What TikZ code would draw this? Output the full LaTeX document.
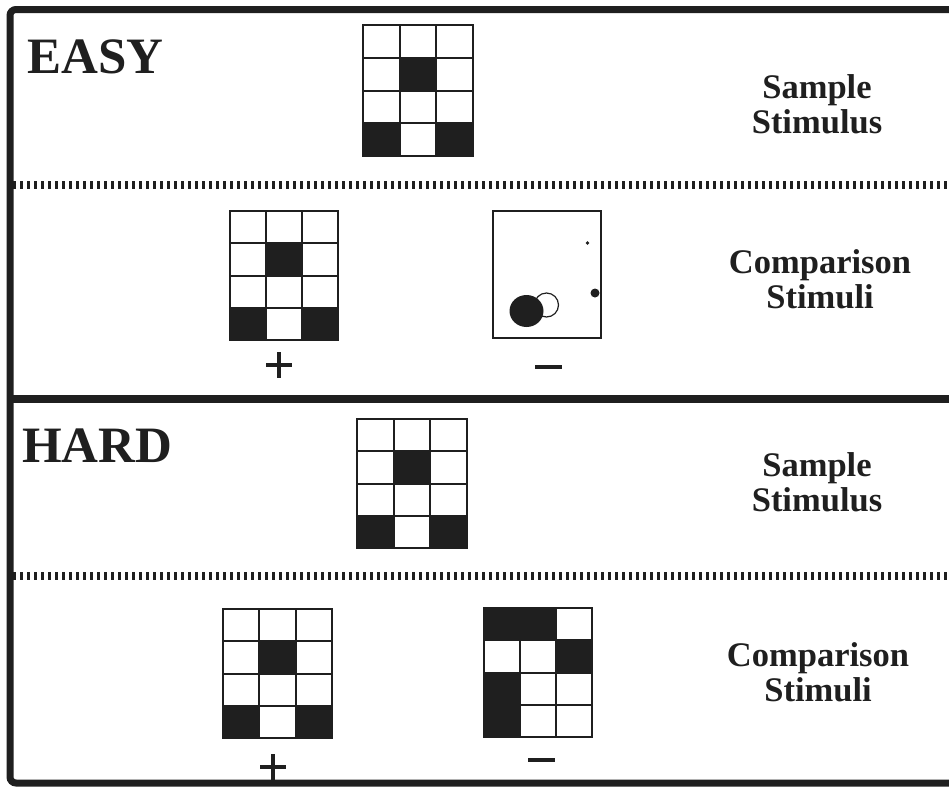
\documentclass[tikz,border=0pt]{standalone}
\usepackage{fontspec}
\setmainfont{Liberation Serif}
\newcommand\stimgrid[5]{% x0 y0 x1 y1 fills
  \begin{scope}[shift={(#1,#2)}, xscale={(#3-#1)/3}, yscale={(#4-#2)/4}]
    \fill[ink] #5;
    \foreach \i in {1,2} \draw[gridline] (\i,0) -- (\i,4);
    \foreach \j in {1,2,3} \draw[gridline] (0,\j) -- (3,\j);
    \draw[gridline, line width=2.4pt] (0,0) rectangle (3,4);
  \end{scope}}
\begin{document}
\begin{tikzpicture}[x=1pt,y=-1pt,
  ink/.style={fill=black!88},
  gridline/.style={draw=black!88, line width=2pt},
  frameline/.style={draw=black!88, line width=7pt},
  dotline/.style={draw=black!88, line width=8pt, dash pattern=on 3.4pt off 3.6pt},
  bigtitle/.style={font=\bfseries\fontsize{51}{51}\selectfont, text=black!88, inner sep=0pt},
  sidelabel/.style={font=\bfseries\fontsize{34.5}{35}\selectfont, text=black!88, align=center, inner sep=0pt},
  signline/.style={draw=black!88, line width=4.5pt}]
\useasboundingbox (0,0) rectangle (949,788);
% frame
\draw[frameline, rounded corners=6pt] (949,9.5) -- (10,9.5) -- (10,783) -- (949,783);
\draw[draw=black!88, line width=8pt] (10,399) -- (949,399);
\draw[dotline] (13,185) -- (949,185);
\draw[dotline] (13,576) -- (949,576);
% titles
\node[bigtitle, anchor=base west] (easy) at (27,73) {EASY};
\node[bigtitle, anchor=base west] (hard) at (22,462) {HARD};
% side labels
\node[sidelabel] (s1) at (817,104) {Sample\\Stimulus};
\node[sidelabel] (c1) at (820,279) {Comparison\\Stimuli};
\node[sidelabel] (s2) at (817,482) {Sample\\Stimulus};
\node[sidelabel] (c2) at (818,672) {Comparison\\Stimuli};
% grids
\stimgrid{363}{25}{473}{156}{(1,1) rectangle (2,2) (0,3) rectangle (1,4) (2,3) rectangle (3,4)}
\stimgrid{230}{211}{338}{340}{(1,1) rectangle (2,2) (0,3) rectangle (1,4) (2,3) rectangle (3,4)}
\stimgrid{357}{419}{467}{548}{(1,1) rectangle (2,2) (0,3) rectangle (1,4) (2,3) rectangle (3,4)}
\stimgrid{223}{609}{332}{738}{(1,1) rectangle (2,2) (0,3) rectangle (1,4) (2,3) rectangle (3,4)}
\stimgrid{484}{608}{592}{737}{(0,0) rectangle (2,1) (2,1) rectangle (3,2) (0,2) rectangle (1,4)}
% easy negative comparison (picture)
\draw[draw=black!88, line width=1.5pt] (493,211) rectangle (601,338);
\draw[draw=black!88, line width=1.2pt, fill=white] (546.5,305) circle[radius=12];
\fill[black!88] (526.5,311) circle[x radius=17, y radius=16];
\fill[black!88] (595,293) circle[radius=4.5];
\fill[black!88] (587.5,243) circle[radius=1.8];
% signs
\draw[signline] (266,365) -- (292,365) (279,352) -- (279,378);
\draw[signline, line width=3.5pt] (535,367) -- (562,367);
\draw[signline] (260,767) -- (286,767) (273,754) -- (273,780);
\draw[signline, line width=3.5pt] (528,760) -- (555,760);
\end{tikzpicture}
\end{document}
